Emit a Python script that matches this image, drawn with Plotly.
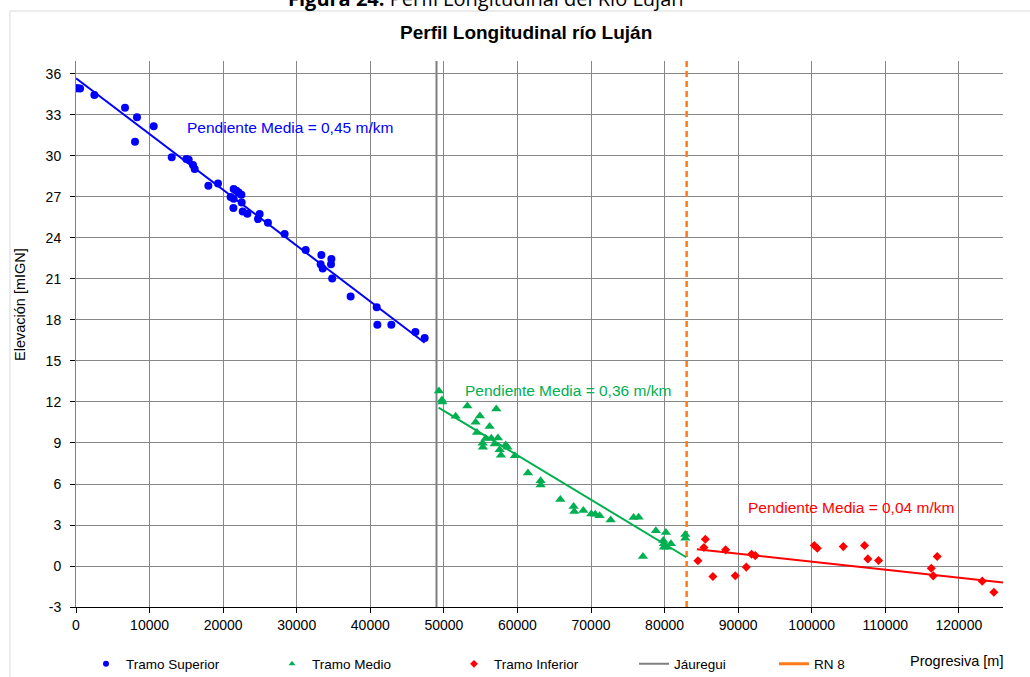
import plotly.graph_objects as go

# Surveyed bed elevations along the river (progresiva in m, elevation in m IGN)
sup_x = [0, 250, 550, 2500, 6660, 8290, 8020, 10560, 13010, 15000, 15320, 15900,
         16130, 17990, 19300, 21020, 21430, 21390, 21430, 21800, 22110, 22480,
         22520, 22660, 23290, 24730, 24960, 26090, 28360, 31220, 33350, 33250,
         33530, 34710, 34660, 34820, 37330, 40870, 40960, 42860, 46130, 47390]
sup_y = [34.95, 34.95, 34.93, 34.46, 33.53, 32.83, 31.05, 32.17, 29.9, 29.78, 29.73,
         29.34, 29.05, 27.83, 27.98, 27.0, 26.88, 26.2, 27.59, 27.46, 27.32, 27.17,
         26.59, 25.93, 25.78, 25.39, 25.76, 25.12, 24.3, 23.13, 22.76, 22.08,
         21.76, 22.47, 22.08, 21.03, 19.71, 18.93, 17.66, 17.66, 17.13, 16.69]

med_x = [49330, 49740, 49790, 53190, 51600, 54900, 54320, 57130, 56220, 54500,
         55680, 56450, 57350, 55270, 55310, 56900, 57580, 57760, 58400, 58630,
         59660, 61430, 63150, 63150, 65830, 67640, 67730, 68960, 70040, 70590,
         71170, 72670, 75790, 76470, 77060, 78820, 80180, 79830, 79910, 80320,
         79910, 80860, 82820, 82820]
med_y = [12.81, 12.15, 12.0, 11.71, 10.96, 10.98, 10.52, 11.49, 10.2, 9.76,
         9.32, 9.35, 9.37, 8.98, 8.69, 8.93, 8.5, 8.1, 8.86, 8.69,
         8.06, 6.81, 6.23, 5.93, 4.86, 4.35, 3.98, 4.06, 3.81, 3.79,
         3.67, 3.37, 3.54, 3.57, 0.69, 2.57, 2.45, 1.86, 1.62, 1.38,
         1.38, 1.62, 2.3, 2.03]

inf_x = [84530, 85540, 85350, 86570, 88300, 89610, 91110, 91830, 92330, 100350,
         100760, 104290, 107180, 107630, 109080, 116250, 116520, 117060, 123180, 124760]
inf_y = [0.38, 1.96, 1.35, -0.77, 1.18, -0.71, -0.08, 0.86, 0.76, 1.5,
         1.3, 1.42, 1.5, 0.52, 0.40, -0.16, -0.72, 0.69, -1.11, -1.92]

# Linear trend lines of each reach (start / end of the fitted line)
trend_sup_x = [0, 47390]
trend_sup_y = [35.69, 16.34]
trend_med_x = [49280, 82950]
trend_med_y = [11.59, 0.64]
trend_inf_x = [84390, 126000]
trend_inf_y = [1.23, -1.20]

# Reference sections
jauregui_x = 49000
rn8_x = 83000

x_max = 126000
y_min, y_max = -3, 36.95

slope_labels = ["Pendiente Media = 0,45 m/km",
                "Pendiente Media = 0,36 m/km",
                "Pendiente Media = 0,04 m/km"]

x_ticks = list(range(0, 130000, 10000))
x_ticktext = [str(v) for v in x_ticks]
y_ticks = list(range(-3, 37, 3))
y_ticktext = [str(v) for v in y_ticks]

BLUE = "#0000FF"
GREEN = "#00B050"
RED = "#FF0000"
GRAY = "#808080"
ORANGE = "#FF7A1A"
FONT = "Liberation Sans, Arial, sans-serif"

fig = go.Figure()

# Vertical reference lines
fig.add_trace(go.Scatter(x=[jauregui_x, jauregui_x], y=[y_min, y_max], mode="lines",
                         line=dict(color=GRAY, width=2), showlegend=False,
                         hoverinfo="skip"))
fig.add_trace(go.Scatter(x=[rn8_x, rn8_x], y=[y_min, y_max], mode="lines",
                         line=dict(color=ORANGE, width=2.5, dash="6px,4px"),
                         showlegend=False, hoverinfo="skip"))

for tx, ty, col in [(trend_sup_x, trend_sup_y, BLUE),
                    (trend_med_x, trend_med_y, GREEN),
                    (trend_inf_x, trend_inf_y, RED)]:
    fig.add_trace(go.Scatter(x=tx, y=ty, mode="lines", line=dict(color=col, width=2),
                             showlegend=False, hoverinfo="skip"))

fig.add_trace(go.Scatter(x=sup_x, y=sup_y, mode="markers", name="Tramo Superior",
                         marker=dict(symbol="circle", size=8, color=BLUE),
                         showlegend=False))
fig.add_trace(go.Scatter(x=med_x, y=med_y, mode="markers", name="Tramo Medio",
                         marker=dict(symbol="triangle-up", size=9, color=GREEN),
                         showlegend=False))
fig.add_trace(go.Scatter(x=inf_x, y=inf_y, mode="markers", name="Tramo Inferior",
                         marker=dict(symbol="diamond", size=7, color=RED),
                         showlegend=False))

# Legend entries, one legend box each so they can be spread along the bottom
legend_items = [
    dict(name="Tramo Superior", mode="markers", marker=dict(symbol="circle", size=6, color=BLUE)),
    dict(name="Tramo Medio", mode="markers", marker=dict(symbol="triangle-up", size=6, color=GREEN)),
    dict(name="Tramo Inferior", mode="markers", marker=dict(symbol="diamond", size=6, color=RED)),
    dict(name="Jáuregui", mode="lines", line=dict(color=GRAY, width=2)),
    dict(name="RN 8", mode="lines", line=dict(color=ORANGE, width=3)),
]
legend_px = [86, 272, 454, 634, 774]

L, R, T, B = 76, 27, 61, 70
W, H = 1030, 677
pw, ph = W - L - R, H - T - B


def px_x(p):
    return (p - L) / pw


def px_y(p):
    return (H - B - p) / ph


for i, (item, lx) in enumerate(zip(legend_items, legend_px)):
    key = "legend" if i == 0 else f"legend{i + 1}"
    fig.add_trace(go.Scatter(x=[None], y=[None], legend=key, showlegend=True, **item))
    fig.update_layout({key: dict(x=px_x(lx), y=px_y(664), xanchor="left", yanchor="middle",
                                 orientation="h", bgcolor="rgba(0,0,0,0)",
                                 font=dict(family=FONT, size=13.5, color="#000000"))})

annotations = [
    dict(text="<b>Figura 24:</b> Perfil Longitudinal del Río Luján", x=px_x(486), y=px_y(14),
         xanchor="center", yanchor="bottom", showarrow=False,
         font=dict(family="Open Sans, sans-serif", size=20, color="#000000")),
    dict(text="<b>Perfil Longitudinal río Luján</b>", x=px_x(526), y=px_y(33),
         xanchor="center", yanchor="middle", showarrow=False,
         font=dict(family=FONT, size=19, color="#000000")),
    dict(text=slope_labels[0], x=px_x(185), y=px_y(127), xanchor="left", yanchor="middle",
         showarrow=False, font=dict(family=FONT, size=15.5, color=BLUE)),
    dict(text=slope_labels[1], x=px_x(463), y=px_y(390), xanchor="left", yanchor="middle",
         showarrow=False, font=dict(family=FONT, size=15.5, color=GREEN)),
    dict(text=slope_labels[2], x=px_x(746), y=px_y(507), xanchor="left", yanchor="middle",
         showarrow=False, font=dict(family=FONT, size=15.5, color=RED)),
    dict(text="Elevación [mIGN]", x=px_x(20), y=px_y(305), xanchor="center", yanchor="middle",
         textangle=-90, showarrow=False, font=dict(family=FONT, size=14.5, color="#000000")),
    dict(text="Progresiva [m]", x=px_x(1005), y=px_y(661), xanchor="right", yanchor="middle",
         showarrow=False, font=dict(family=FONT, size=14.5, color="#000000")),
]

for a in annotations:
    a.update(xref="paper", yref="paper")

fig.update_layout(
    width=W, height=H,
    margin=dict(l=L, r=R, t=T, b=B, pad=0, autoexpand=False),
    paper_bgcolor="#FFFFFF", plot_bgcolor="#FFFFFF",
    showlegend=True,
    annotations=annotations,
    shapes=[dict(type="rect", xref="paper", yref="paper",
                 x0=px_x(10), x1=px_x(1040), y0=px_y(690), y1=px_y(11),
                 line=dict(color="#D9D9D9", width=1), fillcolor="rgba(0,0,0,0)",
                 layer="below")],
    xaxis=dict(range=[0, x_max], tickvals=x_ticks, ticktext=x_ticktext,
               showgrid=True, gridcolor="#878787", gridwidth=1, zeroline=False,
               showline=True, linecolor="#000000", linewidth=1,
               ticks="outside", ticklen=5, tickcolor="#000000",
               tickfont=dict(family=FONT, size=14, color="#000000")),
    yaxis=dict(range=[y_min, y_max], tickvals=y_ticks, ticktext=y_ticktext,
               showgrid=True, gridcolor="#878787", gridwidth=1, zeroline=False,
               showline=True, linecolor="#808080", linewidth=1,
               ticks="outside", ticklen=5, tickcolor="#000000",
               ticklabelstandoff=6,
               tickfont=dict(family=FONT, size=14, color="#000000")),
    hovermode=False,
)

fig.write_html("out.html")
